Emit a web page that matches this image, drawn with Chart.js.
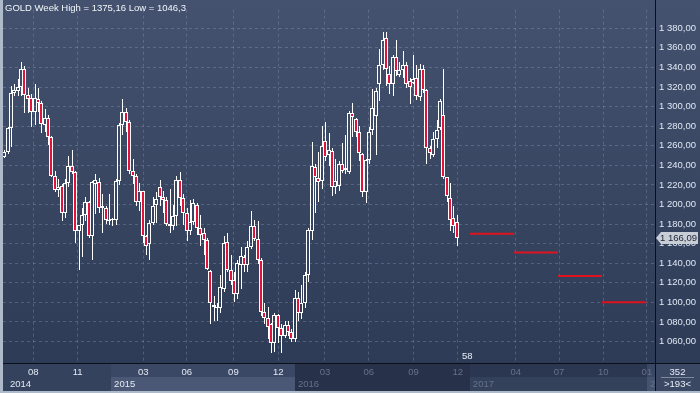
<!DOCTYPE html>
<html><head><meta charset="utf-8">
<script src="https://cdn.jsdelivr.net/npm/chart.js@4/dist/chart.umd.min.js"></script>
<style>html,body{margin:0;padding:0;background:#2f3c57;overflow:hidden}canvas{display:block}</style>
</head><body>
<canvas id="c" width="700" height="393"></canvas>
<script>
// ---- data (weekly GOLD candles) ----
const opens  = [1249,1254,1278,1314,1316,1320,1338,1312,1309,1294,1308,1304,1281,1288,1269,1229,1215,1219,1191,1222,1239,1233,1173,1179,1189,1202,1168,1221,1223,1196,1196,1183,1184,1184,1224,1281,1294,1284,1234,1229,1202,1214,1168,1160,1181,1199,1218,1208,1205,1180,1178,1188,1225,1207,1191,1173,1182,1199,1176,1171,1164,1132,1097,1095,1094,1114,1162,1133,1123,1108,1138,1146,1138,1157,1178,1165,1143,1090,1084,1078,1058,1087,1074,1066,1077,1070,1063,1104,1089,1099,1128,1173,1238,1227,1224,1265,1251,1255,1218,1219,1241,1235,1233,1293,1287,1274,1252,1213,1245,1276,1290,1323,1342,1370,1333,1323,1351,1332,1337,1342,1326,1324,1329,1310,1338,1317,1258,1251,1267,1278,1291,1228,1207,1186,1182];
const highs  = [1256,1279,1321,1323,1328,1346,1341,1319,1313,1323,1319,1306,1298,1291,1270,1234,1226,1221,1226,1250,1256,1234,1179,1196,1208,1204,1224,1231,1227,1211,1198,1211,1186,1226,1283,1308,1299,1286,1246,1231,1222,1214,1169,1184,1208,1213,1225,1214,1208,1216,1199,1229,1233,1211,1196,1205,1206,1201,1189,1176,1166,1133,1106,1099,1128,1168,1171,1148,1131,1143,1157,1148,1163,1193,1184,1183,1145,1099,1095,1079,1089,1088,1078,1081,1081,1073,1113,1111,1118,1131,1176,1264,1241,1254,1280,1284,1273,1258,1246,1244,1263,1271,1296,1304,1288,1280,1253,1246,1279,1318,1319,1359,1376,1376,1341,1353,1368,1346,1357,1346,1329,1353,1343,1344,1343,1318,1260,1274,1286,1308,1338,1228,1222,1198,1189];
const lows   = [1247,1252,1259,1311,1311,1311,1293,1293,1279,1281,1294,1273,1274,1261,1228,1213,1208,1183,1186,1218,1231,1161,1133,1146,1183,1166,1143,1190,1191,1171,1180,1179,1178,1179,1220,1271,1274,1231,1221,1198,1193,1161,1148,1143,1179,1181,1198,1191,1178,1171,1174,1178,1198,1179,1163,1169,1179,1169,1158,1148,1133,1078,1081,1081,1089,1111,1131,1118,1100,1103,1114,1131,1131,1154,1163,1139,1086,1078,1063,1048,1049,1058,1048,1064,1066,1059,1059,1081,1083,1094,1121,1164,1191,1203,1216,1244,1239,1209,1211,1214,1232,1231,1231,1269,1269,1244,1208,1201,1241,1271,1251,1306,1337,1321,1313,1311,1331,1330,1329,1319,1303,1323,1307,1306,1314,1241,1246,1249,1258,1276,1226,1203,1173,1171,1158];
const closes = [1254,1278,1314,1317,1320,1338,1312,1308,1294,1309,1304,1282,1288,1269,1229,1215,1218,1191,1222,1239,1233,1173,1179,1189,1202,1168,1223,1225,1196,1198,1184,1184,1184,1224,1281,1294,1284,1234,1229,1202,1214,1168,1158,1181,1198,1206,1208,1205,1180,1178,1188,1225,1207,1191,1173,1182,1201,1176,1169,1164,1134,1099,1095,1094,1116,1161,1133,1122,1108,1140,1147,1138,1157,1178,1165,1143,1090,1084,1075,1058,1087,1074,1066,1077,1070,1063,1104,1089,1099,1128,1174,1239,1228,1223,1260,1249,1256,1218,1224,1241,1234,1237,1293,1289,1274,1253,1213,1245,1274,1299,1316,1343,1368,1338,1323,1351,1336,1337,1342,1323,1320,1328,1311,1338,1317,1258,1253,1267,1276,1306,1228,1209,1184,1178,1166];

const monthTickPos   = [8.47,21.6,41.0,53.9,67.7,81.0,94.8,107.8,121.0,134.1,151.3,164.1,177.2,190.1];
const monthLabels    = ['08','11','03','06','09','12','03','06','09','12','04','07','10','01'];
const yearStarts     = [-0.5,31.5,85.9,137.7,190.1];
const yearLabels     = ['2014','2015','2016','2017','2018'];
const forecastLevels = [1170,1151,1127,1100];
const forecastFrom   = [137.7,150.8,163.8,176.8];
const forecastTo     = [150.8,163.8,176.8,189.9];
const priceTicks     = [1060,1080,1100,1120,1140,1160,1180,1200,1220,1240,1260,1280,1300,1320,1340,1360,1380];
const lastPrice      = 1166.09;
const titleText      = 'GOLD Week High = 1375,16 Low = 1046,3';
const cornerTop = '352', cornerBottom = '>193<', barLabel = '58';

const FONT = "'Liberation Sans',Arial,sans-serif";
const FS = 9.5;
const RED = '#e3123a';

function fmt(v){
  const s = v.toFixed(2).split('.');
  return s[0].replace(/\B(?=(\d{3})+(?!\d))/g,' ') + ',' + s[1];
}

const idx = opens.map((_, i) => i);
const bodyData  = idx.map(i => ({x:i, y:[opens[i], closes[i]]}));
const upWick    = idx.map(i => ({x:i, y:[Math.max(opens[i], closes[i]), highs[i]]}));
const downWick  = idx.map(i => ({x:i, y:[lows[i], Math.min(opens[i], closes[i])]}));

const forecastSets = forecastLevels.map((lv, k) => ({
  type:'line', data:[{x:forecastFrom[k], y:lv},{x:forecastTo[k], y:lv}],
  borderColor:'#e0121e', borderWidth:2, pointRadius:0, fill:false, order:0
}));

// snap candle elements to whole device pixels so 1px wicks stay crisp
const snap = {
  id:'snap',
  afterDatasetsUpdate(chart){
    chart.data.datasets.forEach((ds, di) => {
      if (ds.type === 'line') return;
      chart.getDatasetMeta(di).data.forEach(el => {
        const c = Math.floor(el.x);
        el.x = ds.label === 'body' ? c : c + 0.5;
        el.y = Math.round(el.y); el.base = Math.round(el.base);
      });
    });
  }
};

const deco = {
  id:'deco',
  beforeDraw(chart){
    const {ctx, chartArea:ca, width, height} = chart;
    const xs = chart.scales.x;
    ctx.save();
    const g = ctx.createLinearGradient(0,0,0,ca.bottom);
    g.addColorStop(0,'#44526f'); g.addColorStop(1,'#2e3b56');
    ctx.fillStyle = g; ctx.fillRect(0,0,width,ca.bottom);
    ctx.fillStyle = '#34425d'; ctx.fillRect(0,ca.bottom,width,height-ca.bottom);
    const rowM = ['#34425d','#3a4865','#27314a','#2b3650','#3a4865'];
    const rowY = ['#34425d','#4a5876','#27314a','#34415b','#45536f'];
    for (let k=0;k<yearStarts.length;k++){
      const x0 = Math.round(xs.getPixelForValue(yearStarts[k]));
      const x1 = k+1<yearStarts.length ? Math.round(xs.getPixelForValue(yearStarts[k+1])) : ca.right;
      ctx.fillStyle = rowM[k]; ctx.fillRect(x0, ca.bottom+1, Math.min(x1,ca.right)-x0, 13);
      ctx.fillStyle = rowY[k]; ctx.fillRect(x0, ca.bottom+14, Math.min(x1,ca.right)-x0, height-ca.bottom-16);
    }
    ctx.fillStyle = '#3b4864'; ctx.fillRect(ca.right, ca.bottom, width-ca.right, height-ca.bottom);
    ctx.restore();
  },
  afterDraw(chart){
    const {ctx, chartArea:ca, width, height} = chart;
    const xs = chart.scales.x, ys = chart.scales.y;
    ctx.save();
    ctx.fillStyle = '#0b0f18';
    ctx.fillRect(ca.right, 0, 1, height);
    ctx.fillRect(0, ca.bottom, width, 1);
    ctx.save();
    ctx.beginPath(); ctx.rect(0, ca.bottom, ca.right, height-ca.bottom); ctx.clip();
    ctx.font = FS + 'px ' + FONT; ctx.textBaseline = 'middle'; ctx.textAlign = 'left';
    yearLabels.forEach((t,k) => {
      const x0 = xs.getPixelForValue(yearStarts[k]);
      ctx.fillStyle = k < 2 ? '#e4eaf4' : '#66718b';
      ctx.fillText(t, Math.max(x0+3, ca.left+7), ca.bottom + 21);
    });
    ctx.restore();
    ctx.font = FS + 'px ' + FONT; ctx.textAlign = 'center'; ctx.textBaseline = 'middle';
    ctx.fillStyle = '#e8eef8';
    ctx.fillText(cornerTop, (ca.right+width)/2, ca.bottom + 9);
    ctx.fillText(cornerBottom, (ca.right+width)/2, ca.bottom + 21);
    ctx.fillStyle = '#7d889e'; ctx.fillRect(ca.right+6, ca.bottom+14, width-ca.right-12, 1);
    const py = Math.round(ys.getPixelForValue(lastPrice));
    ctx.fillStyle = '#c8cdd6';
    ctx.beginPath();
    ctx.moveTo(ca.right+1, py);
    ctx.lineTo(ca.right+6, py-6);
    ctx.lineTo(width-2, py-6);
    ctx.lineTo(width-2, py+6);
    ctx.lineTo(ca.right+6, py+6);
    ctx.closePath(); ctx.fill();
    ctx.fillStyle = '#1c2435'; ctx.textAlign = 'left';
    ctx.fillText(fmt(lastPrice), ca.right+5, py);
    ctx.fillStyle = '#e8eef8'; ctx.textAlign = 'center';
    ctx.fillText(barLabel, xs.getPixelForValue(opens.length - 1 + 2.9), ca.bottom - 7);
    ctx.textAlign = 'left'; ctx.fillStyle = '#f2f5fa';
    ctx.fillText(titleText, 5, 8);
    ctx.fillStyle = '#aeb9ca';
    ctx.fillRect(0, 0, 3, height);
    ctx.fillRect(0, height-2, width, 2);
    ctx.restore();
  }
};

new Chart(document.getElementById('c'), {
  type:'bar',
  data:{ datasets:[
    { label:'body', data:bodyData, order:1, grouped:false, barThickness:4, minBarLength:1,
      backgroundColor: ctx => { const i = ctx.dataIndex; return closes[i] >= opens[i] ? 'rgba(0,0,0,0)' : RED; },
      borderColor:'#ffffff', borderWidth:1, borderSkipped:false, inflateAmount:0 },
    { label:'upWick', data:upWick, order:2, grouped:false, barThickness:1, backgroundColor:'#ffffff', borderWidth:0, inflateAmount:0 },
    { label:'downWick', data:downWick, order:2, grouped:false, barThickness:1, backgroundColor:'#ffffff', borderWidth:0, inflateAmount:0 },
    ...forecastSets
  ]},
  options:{
    responsive:false, animation:false, devicePixelRatio:1,
    layout:{ padding:{ left:3, top:2, right:0, bottom:0 } },
    plugins:{ legend:{display:false}, tooltip:{enabled:false} },
    scales:{
      x:{ type:'linear', min:-0.5, max:192.5, offset:false,
          afterBuildTicks(s){ s.ticks = monthTickPos.map(v => ({value:v})); },
          afterFit(s){ s.height = 30; },
          grid:{ color:'rgba(150,165,195,0.33)', lineWidth:1, drawTicks:false, offset:false },
          border:{ display:false, dash:[3,3] },
          ticks:{ autoSkip:false, maxRotation:0, minRotation:0, padding:4,
                  font:{ family:FONT, size:FS },
                  color: c => c.index < 6 ? '#e4eaf4' : '#66718b',
                  callback:(v,i) => monthLabels[i] } },
      y:{ position:'right', min:1038, max:1399,
          afterBuildTicks(s){ s.ticks = priceTicks.map(v => ({value:v})); },
          afterFit(s){ s.width = 45; },
          grid:{ color:'rgba(150,165,195,0.33)', lineWidth:1, drawTicks:false },
          border:{ display:false, dash:[3,3] },
          ticks:{ padding:4, font:{ family:FONT, size:FS }, color:'#dfe8f5',
                  callback:v => fmt(v) } }
    }
  },
  plugins:[snap, deco]
});
</script>
</body></html>
